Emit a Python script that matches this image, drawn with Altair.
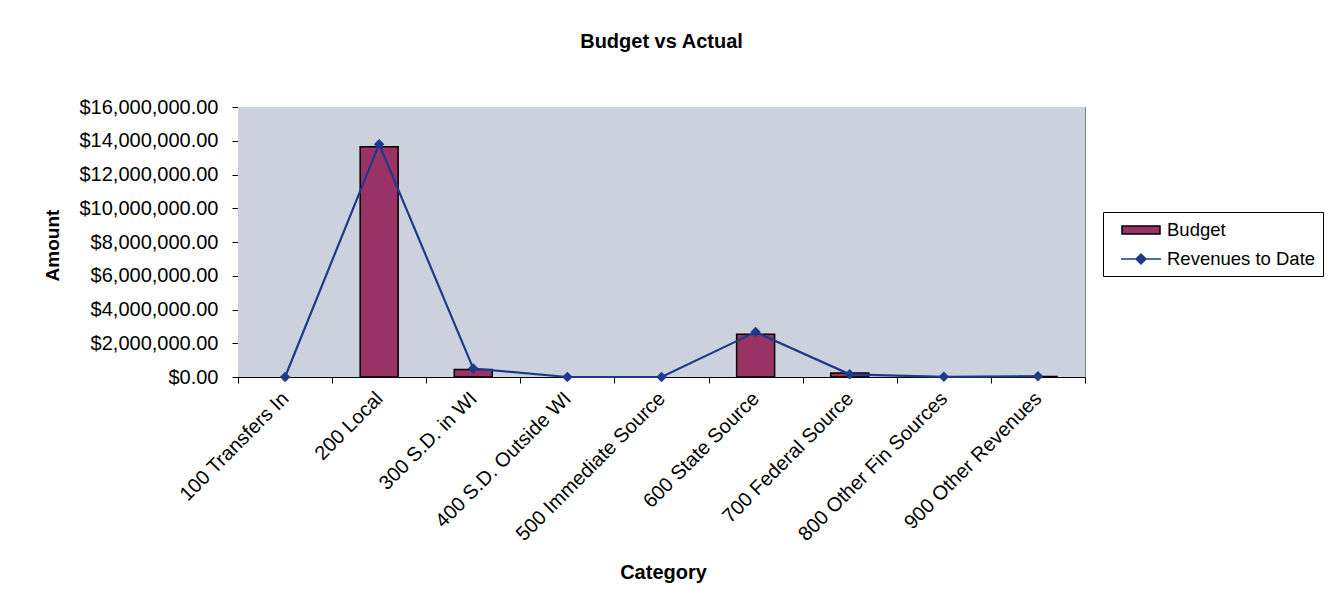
import altair as alt
import pandas as pd

categories = [
    "100 Transfers In", "200 Local", "300 S.D. in WI", "400 S.D. Outside WI",
    "500 Immediate Source", "600 State Source", "700 Federal Source",
    "800 Other Fin Sources", "900 Other Revenues",
]
budget = [0, 13650000, 450000, 0, 0, 2530000, 240000, 0, 30000]
revenues = [0, 13800000, 500000, 0, 0, 2660000, 160000, 10000, 40000]
series_names = ["Budget", "Revenues to Date"]
y_ticks = [0, 2000000, 4000000, 6000000, 8000000, 10000000, 12000000, 14000000, 16000000]

df = pd.DataFrame({"category": categories, "budget": budget, "revenues": revenues})
df_series = pd.DataFrame({"series": series_names})
df_bg = pd.DataFrame({"k": [0]})

FONT = "Liberation Sans"
MAG = "#993366"
NAVY = "#1d3a8c"
PLOT_BG = "#cbd2dd"

x_enc = alt.X(
    "category:N", sort=categories, title="Category",
    scale=alt.Scale(paddingInner=0, paddingOuter=0),
    axis=alt.Axis(
        labelAngle=-45, labelFontSize=20, labelFont=FONT, labelColor="black",
        labelLimit=0, tickBand="extent", tickColor="black", domainColor="black",
        tickSize=6, labelPadding=5, labelOffset=-7, titleFontSize=20, titleFont=FONT,
        titleFontWeight="bold", titleColor="black", titleX=425, titleY=195,
        titleBaseline="middle",
    ),
)

y_axis = alt.Axis(
    values=y_ticks, format="$,.2f", grid=False, labelFontSize=20, labelFont=FONT,
    labelColor="black", tickColor="black", domainColor="black", tickSize=6,
    labelPadding=14, labelLimit=0, title="Amount", titleFontSize=19, titleFont=FONT,
    titleFontWeight="bold", titleColor="black", titleX=-186, titleY=138,
    titleBaseline="middle",
)
y_scale = alt.Scale(domain=[0, 16000000], nice=False)

background = alt.Chart(df_bg).mark_rect(fill=PLOT_BG).encode(
    x=alt.value(0), x2=alt.value("width"), y=alt.value(0), y2=alt.value("height")
)

bars = alt.Chart(df).mark_bar(size=38, fill=MAG, stroke="black", strokeWidth=1.5).encode(
    x=x_enc, y=alt.Y("budget:Q", scale=y_scale, axis=y_axis)
).transform_filter("datum.budget > 0")

line = alt.Chart(df).mark_line(color=NAVY, strokeWidth=2.2).encode(
    x=x_enc, y=alt.Y("revenues:Q", scale=y_scale, axis=y_axis)
)

pts = alt.Chart(df).mark_point(shape="diamond", filled=True, size=110, color=NAVY, opacity=1).encode(
    x=x_enc, y=alt.Y("revenues:Q", scale=y_scale, axis=y_axis)
)

rect_path = "M-1.9,-0.4H1.9V0.4H-1.9Z"
line_path = "M-2,0H2M0,-0.5L0.5,0L0,0.5L-0.5,0Z"

leg = alt.Legend(
    title=None, orient="none", legendX=865, legendY=105, labelFontSize=18.5,
    labelFont=FONT, labelColor="black", symbolSize=400, symbolStrokeWidth=1.5,
    strokeColor="black", fillColor="white", padding=7, rowPadding=8,
    labelOffset=15, symbolOffset=20, symbolOpacity=1,
)

legend_layer = alt.Chart(df_series).mark_point(filled=True, opacity=1).encode(
    fill=alt.Fill("series:N", scale=alt.Scale(domain=series_names, range=[MAG, NAVY]), legend=leg),
    stroke=alt.Stroke("series:N", scale=alt.Scale(domain=series_names, range=["black", NAVY]), legend=leg),
    shape=alt.Shape("series:N", scale=alt.Scale(domain=series_names, range=[rect_path, line_path]), legend=leg),
).transform_filter("false")

chart = alt.layer(background, bars, line, pts, legend_layer).properties(
    width=847, height=270,
    title=alt.TitleParams("Budget vs Actual", fontSize=20, font=FONT, fontWeight="bold",
                          offset=45, color="black"),
    autosize=alt.AutoSizeParams(type="none"),
    padding={"left": 238, "top": 107, "right": 255, "bottom": 229},
).configure(background="white").configure_view(stroke="#808080")

chart.save("out.html", embed_options={"renderer": "svg", "actions": False})
